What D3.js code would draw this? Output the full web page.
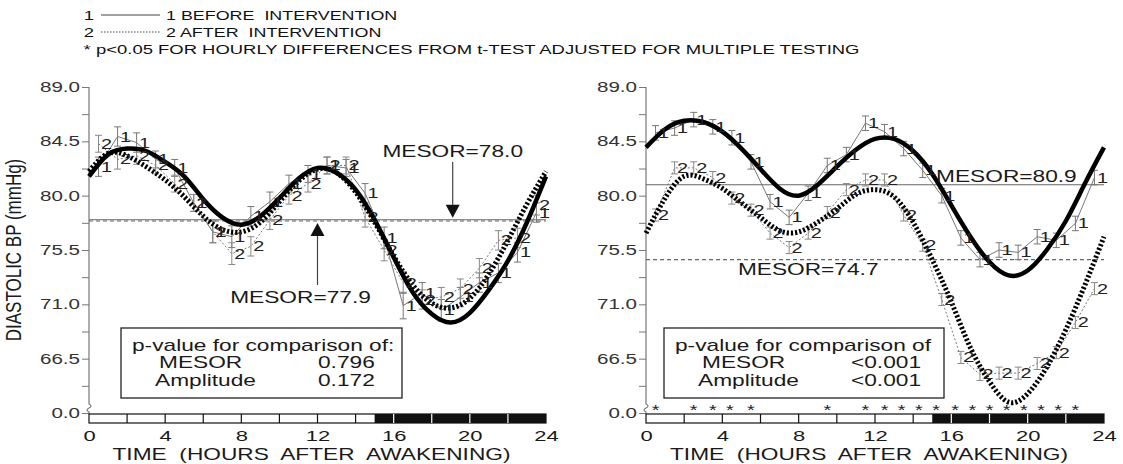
<!DOCTYPE html>
<html><head><meta charset="utf-8">
<script src="https://cdn.jsdelivr.net/npm/d3@7"></script>
<style>
html,body{margin:0;padding:0;background:#fff;}
svg{display:block;}
</style></head><body>
<svg id="chart" width="1123" height="464"></svg>
<script>
// ---------- DATA ----------
const hoursHalf = [0.5,1.5,2.5,3.5,4.5,5.5,6.5,7.5,8.5,9.5,10.5,11.5,12.5,13.5,14.5,15.5,16.5,17.5,18.5,19.5,20.5,21.5,22.5,23.5];
const hoursFit = [0,1,2,3,4,5,6,7,8,9,10,11,12,13,14,15,16,17,18,19,20,21,22,23,24];

const yTicks = [89.0, 84.5, 80.0, 75.5, 71.0, 66.5, 62.0];
const yTickLabels = ["89.0","84.5","80.0","75.5","71.0","66.5","0.0"];
const yMinor = [86.75, 82.25, 77.75, 73.25, 68.75, 64.25];
const xTicks = [0,4,8,12,16,20,24];
const barDividers = [2,4,6,8,10,12,14,16,18,20,22];
const darkStart = 15;

// left panel
const leftFitBefore = [81.6,83.4,83.9,83.7,82.8,81.6,79.7,78.2,77.6,78.3,79.8,81.4,82.3,81.9,80.5,78.0,74.9,72.0,70.2,69.5,70.3,72.2,74.6,77.8,81.6];
const leftFitAfter  = [82.0,83.5,83.3,82.4,81.3,79.9,78.3,77.2,77.0,77.8,79.5,81.2,82.2,81.9,80.3,77.8,75.0,72.6,71.1,70.7,71.5,73.5,76.3,79.3,82.0];
const leftBefore = [82.4,84.9,84.4,83.0,82.3,79.4,77.0,76.6,78.3,79.5,81.0,81.8,82.5,82.3,80.2,76.5,70.9,71.9,70.5,71.6,72.8,73.6,75.3,78.6];
const leftAfter  = [84.3,83.0,83.3,82.5,81.0,79.4,77.0,75.2,75.8,78.0,80.0,81.0,82.5,82.5,78.2,75.5,72.8,71.4,71.6,72.3,74.0,76.3,76.5,79.2];
const leftSEBefore = [0.8,0.8,0.8,0.7,0.7,0.7,0.9,0.9,0.8,0.8,0.7,0.7,0.7,0.7,0.8,0.9,1.1,0.9,0.9,0.8,0.8,0.8,0.8,0.8];
const leftSEAfter  = [0.7,0.8,0.7,0.7,0.7,0.7,0.9,0.9,0.8,0.8,0.7,0.7,0.7,0.7,0.8,0.9,0.9,0.8,0.8,0.8,0.8,0.8,0.8,0.8];
const leftMesorBefore = 78.0;
const leftMesorAfter = 77.9;
const leftP = ["0.796","0.172"];

// right panel
const rightFitBefore = [84.0,85.5,86.2,86.1,85.3,83.9,82.2,80.6,80.0,80.9,82.4,83.8,84.7,84.7,83.7,81.8,79.2,76.6,74.5,73.4,73.8,75.5,77.9,81.0,84.0];
const rightFitAfter  = [76.9,79.8,81.6,81.4,80.6,79.4,78.2,77.1,77.0,77.8,78.9,80.1,80.5,79.9,77.8,74.7,71.2,67.4,64.6,62.9,63.6,65.8,68.9,72.6,76.6];
const rightBefore = [85.2,85.6,86.3,85.7,84.8,82.8,79.5,78.2,80.2,82.5,83.4,86.0,85.3,83.9,82.1,80.0,76.5,74.7,75.5,75.3,76.6,76.3,77.7,81.5];
const rightAfter  = [78.4,82.3,82.3,81.5,79.8,78.8,76.9,75.7,76.9,78.6,80.5,81.3,81.3,78.4,75.9,71.4,66.6,65.2,65.3,65.3,66.1,67.0,69.5,72.3];
const rightSEBefore = [0.6,0.6,0.6,0.6,0.6,0.6,0.6,0.6,0.6,0.6,0.6,0.6,0.6,0.6,0.6,0.6,0.6,0.6,0.6,0.6,0.6,0.6,0.6,0.6];
const rightSEAfter  = [0.5,0.5,0.5,0.5,0.5,0.5,0.5,0.5,0.5,0.5,0.5,0.5,0.5,0.5,0.5,0.5,0.5,0.5,0.5,0.5,0.5,0.5,0.5,0.5];
const rightMesorBefore = 80.9;
const rightMesorAfter = 74.7;
const rightP = ["<0.001","<0.001"];
const rightStarHours = [0.5,2.5,3.5,4.4,5.5,9.5,11.5,12.5,13.4,14.3,15.2,16.2,17.1,18.0,18.9,19.8,20.7,21.6,22.5];

// ---------- DRAWING ----------
const FONT = '"Liberation Sans", Arial, Helvetica, sans-serif';
const SX = 1.42;
const AX = "#777";
const INK = "#1a1a1a";
const svg = d3.select("#chart").attr("font-family", FONT);

function label(g, x, y, s, size, anchor, fill) {
  return g.append("text")
    .attr("transform", `translate(${x},${y}) scale(${SX},1)`)
    .attr("text-anchor", anchor || "start")
    .attr("font-size", size)
    .attr("fill", fill || INK)
    .text(s);
}

const yScale = d3.scaleLinear().domain([62, 89]).range([413, 87]);
const BAR_TOP = 414, BAR_H = 9;

function drawPanel(p) {
  const g = svg.append("g");
  const x = d3.scaleLinear().domain([0, 24]).range(p.xRange);
  const y = yScale;
  const x0 = x(0), x24 = x(24);

  // y axis ticks
  const ax = g.append("g").attr("transform", `translate(${x0},0)`);
  ax.call(d3.axisLeft(y).tickValues(yTicks).tickFormat((d, i) => yTickLabels[i]).tickSize(7).tickSizeOuter(0));
  ax.attr("font-family", FONT).attr("font-size", 14.5);
  ax.select(".domain").remove();
  ax.selectAll(".tick line").attr("stroke", AX);
  ax.selectAll(".tick text").attr("x", -9 / SX).attr("transform", `scale(${SX},1)`).attr("fill", "#333");
  const ax2 = g.append("g").attr("transform", `translate(${x0},0)`);
  ax2.call(d3.axisLeft(y).tickValues(yMinor).tickFormat(() => "").tickSize(7).tickSizeOuter(0));
  ax2.select(".domain").remove();
  ax2.selectAll(".tick line").attr("stroke", AX);
  // axis line with break
  g.append("path")
    .attr("d", `M${x0},${y(89)}V${y(62) - 9}q4,2 0,4q-4,2 0,4V${BAR_TOP}`)
    .attr("fill", "none").attr("stroke", AX).attr("stroke-width", 1.2);

  // day/night bar
  g.append("rect").attr("x", x0).attr("y", BAR_TOP).attr("width", x24 - x0).attr("height", BAR_H)
    .attr("fill", "#fff").attr("stroke", "#111").attr("stroke-width", 1.2);
  g.append("rect").attr("x", x(darkStart)).attr("y", BAR_TOP).attr("width", x24 - x(darkStart)).attr("height", BAR_H)
    .attr("fill", "#111");
  g.selectAll(".div").data(barDividers).enter().append("line")
    .attr("x1", d => x(d)).attr("x2", d => x(d)).attr("y1", BAR_TOP).attr("y2", BAR_TOP + BAR_H)
    .attr("stroke", d => d < darkStart ? "#111" : "#fff").attr("stroke-width", 1.2);

  // x axis labels
  const xa = g.append("g").attr("transform", `translate(0,${BAR_TOP + BAR_H})`);
  xa.call(d3.axisBottom(x).tickValues(xTicks).tickSize(0).tickPadding(7));
  xa.attr("font-family", FONT).attr("font-size", 15.5);
  xa.select(".domain").remove();
  xa.selectAll(".tick text").attr("transform", `scale(${SX},1)`).attr("fill", INK);
  label(g, (x0 + x24) / 2 - 6, 460, "TIME  (HOURS  AFTER  AWAKENING)", 16, "middle").attr("xml:space", "preserve");

  // MESOR lines
  g.append("line").attr("x1", x0).attr("x2", x24).attr("y1", y(p.mesorBefore)).attr("y2", y(p.mesorBefore))
    .attr("stroke", "#666").attr("stroke-width", 1.1);
  g.append("line").attr("x1", x0).attr("x2", x24).attr("y1", y(p.mesorAfter)).attr("y2", y(p.mesorAfter))
    .attr("stroke", "#666").attr("stroke-width", 1.1).attr("stroke-dasharray", "4,3");

  const pts = (vals) => vals.map((v, i) => [hoursHalf[i], v]);
  const thin = d3.line().x(d => x(d[0])).y(d => y(d[1]));
  g.append("path").attr("d", thin(pts(p.before))).attr("fill", "none").attr("stroke", "#777").attr("stroke-width", 1);
  g.append("path").attr("d", thin(pts(p.after))).attr("fill", "none").attr("stroke", "#777").attr("stroke-width", 1).attr("stroke-dasharray", "2,2");

  // error bars
  function ebars(vals, se, col) {
    const eg = g.append("g").attr("stroke", col).attr("stroke-width", 1);
    vals.forEach((v, i) => {
      const cx = x(hoursHalf[i]);
      const ya = y(v + se[i]), yb = y(v - se[i]);
      eg.append("line").attr("x1", cx).attr("x2", cx).attr("y1", ya).attr("y2", yb);
      eg.append("line").attr("x1", cx - 3.5).attr("x2", cx + 3.5).attr("y1", ya).attr("y2", ya);
      eg.append("line").attr("x1", cx - 3.5).attr("x2", cx + 3.5).attr("y1", yb).attr("y2", yb);
    });
  }
  ebars(p.before, p.seBefore, "#777");
  ebars(p.after, p.seAfter, "#888");

  // fitted curves
  const fit = (vals) => vals.map((v, i) => [hoursFit[i], v]);
  const smooth = d3.line().x(d => x(d[0])).y(d => y(d[1])).curve(d3.curveNatural);
  g.append("path").attr("d", smooth(fit(p.fitBefore))).attr("fill", "none").attr("stroke", "#000").attr("stroke-width", 4.5);
  g.append("path").attr("d", smooth(fit(p.fitAfter))).attr("fill", "none").attr("stroke", "#000").attr("stroke-width", 5).attr("stroke-dasharray", "2.2,2");

  // digit markers
  function digits(vals, s) {
    vals.forEach((v, i) => {
      label(g, x(hoursHalf[i]) + 8, y(v) + 5, s, 14, "middle", "#222");
    });
  }
  digits(p.before, "1");
  digits(p.after, "2");

  // p-value box
  const b = p.box;
  g.append("rect").attr("x", b.x).attr("y", 328).attr("width", b.w).attr("height", 70)
    .attr("fill", "#fff").attr("stroke", "#222").attr("stroke-width", 1.3);
  label(g, b.x + 11, 351, p.pTitle, 16);
  label(g, b.x + 38, 368, "MESOR", 16);
  label(g, b.x + 34, 386, "Amplitude", 16);
  label(g, b.x + b.valX, 368, p.pVals[0], 16);
  label(g, b.x + b.valX, 386, p.pVals[1], 16);

  // stars
  if (p.stars) {
    p.stars.forEach(h => label(g, x(h), 415, "*", 14, "middle", "#222"));
  }
  return { g, x, y };
}

const L = drawPanel({
  xRange: [89, 546],
  fitBefore: leftFitBefore, fitAfter: leftFitAfter,
  before: leftBefore, after: leftAfter,
  seBefore: leftSEBefore, seAfter: leftSEAfter,
  mesorBefore: leftMesorBefore, mesorAfter: leftMesorAfter,
  pTitle: "p-value for comparison of:", pVals: leftP,
  box: { x: 121, w: 281, valX: 197 }
});
const R = drawPanel({
  xRange: [646, 1104],
  fitBefore: rightFitBefore, fitAfter: rightFitAfter,
  before: rightBefore, after: rightAfter,
  seBefore: rightSEBefore, seAfter: rightSEAfter,
  mesorBefore: rightMesorBefore, mesorAfter: rightMesorAfter,
  pTitle: "p-value for comparison of", pVals: rightP,
  box: { x: 664, w: 280, valX: 187 },
  stars: rightStarHours
});

// MESOR annotations (left)
(function () {
  const g = L.g, x = L.x, y = L.y;
  const ax1 = x(19.1);
  label(g, ax1, 157, "MESOR=" + leftMesorBefore.toFixed(1), 16, "middle");
  g.append("line").attr("x1", ax1).attr("x2", ax1).attr("y1", 162).attr("y2", y(leftMesorBefore) - 12).attr("stroke", "#444").attr("stroke-width", 1.2);
  g.append("path").attr("d", `M${ax1 - 7},${y(leftMesorBefore) - 15}L${ax1 + 7},${y(leftMesorBefore) - 15}L${ax1},${y(leftMesorBefore) - 2}Z`).attr("fill", "#111");
  const ax2 = x(12.0);
  label(g, ax2 - 17, 303, "MESOR=" + leftMesorAfter.toFixed(1), 16, "middle");
  g.append("line").attr("x1", ax2).attr("x2", ax2).attr("y1", y(leftMesorAfter) + 12).attr("y2", 285).attr("stroke", "#444").attr("stroke-width", 1.2);
  g.append("path").attr("d", `M${ax2 - 7},${y(leftMesorAfter) + 15}L${ax2 + 7},${y(leftMesorAfter) + 15}L${ax2},${y(leftMesorAfter) + 2}Z`).attr("fill", "#111");
  // y axis title
  g.append("text")
    .attr("transform", `translate(21,250) rotate(-90) scale(1,1.3)`)
    .attr("text-anchor", "middle").attr("font-size", 17).attr("fill", INK)
    .text("DIASTOLIC BP (mmHg)");
})();

// MESOR annotations (right)
(function () {
  const g = R.g, x = R.x, y = R.y;
  label(g, x(15.2), y(rightMesorBefore) - 3, "MESOR=" + rightMesorBefore.toFixed(1), 16, "start");
  label(g, x(8.5), y(rightMesorAfter) + 15, "MESOR=" + rightMesorAfter.toFixed(1), 16, "middle");
})();

// legend
(function () {
  const g = svg.append("g");
  label(g, 89, 20, "1", 13, "middle", "#111");
  g.append("line").attr("x1", 101).attr("x2", 160).attr("y1", 15).attr("y2", 15).attr("stroke", "#444").attr("stroke-width", 1.2);
  label(g, 166, 20, "1 BEFORE  INTERVENTION", 12.6, "start", "#111").attr("xml:space", "preserve");
  label(g, 89, 37, "2", 13, "middle", "#111");
  g.append("line").attr("x1", 101).attr("x2", 160).attr("y1", 32).attr("y2", 32).attr("stroke", "#444").attr("stroke-width", 1.2).attr("stroke-dasharray", "1.5,1.5");
  label(g, 166, 37, "2 AFTER  INTERVENTION", 12.6, "start", "#111").attr("xml:space", "preserve");
  label(g, 87, 54, "*", 13, "middle", "#111");
  label(g, 96, 54, "p<0.05 FOR HOURLY DIFFERENCES FROM t-TEST ADJUSTED FOR MULTIPLE TESTING", 13, "start", "#111");
})();
</script>
</body></html>
